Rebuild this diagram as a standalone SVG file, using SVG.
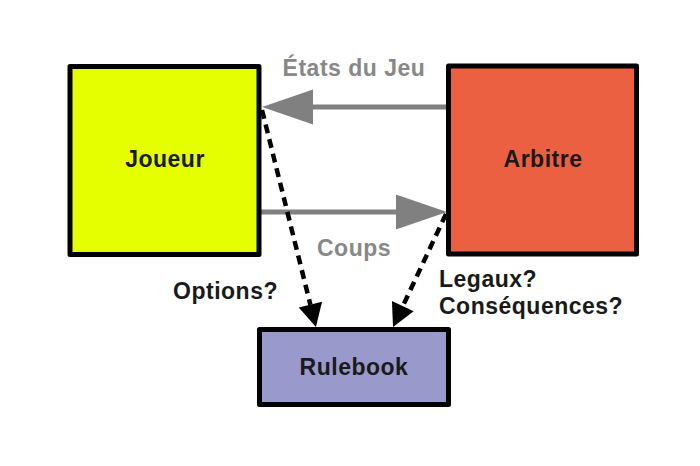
<svg xmlns="http://www.w3.org/2000/svg" width="700" height="466" viewBox="0 0 700 466">
<defs>
<style>
.box{stroke:#000;stroke-width:5;stroke-linejoin:round}
.lbl{font-family:"Liberation Sans",Arial,sans-serif;font-weight:bold;font-size:23px;letter-spacing:0.5px;fill:#1a1a1a}
.glbl{font-family:"Liberation Sans",Arial,sans-serif;font-weight:bold;font-size:23px;letter-spacing:0.5px;fill:#888}
.gray{stroke:#808080;stroke-width:5;fill:none}
.dash{stroke:#000;stroke-width:4.5;stroke-dasharray:9,6;fill:none}
</style>
<marker id="garrow" markerUnits="userSpaceOnUse" markerWidth="52" markerHeight="36" refX="0" refY="17.5" orient="auto" overflow="visible">
<path d="M0,0 L51,17.5 L0,35 z" fill="#808080"/>
</marker>
<marker id="barrow" markerUnits="userSpaceOnUse" markerWidth="24" markerHeight="26" refX="0" refY="12" orient="auto" overflow="visible">
<path d="M0,0 L23,12 L0,24 z" fill="#000"/>
</marker>
</defs>
<rect width="700" height="466" fill="#fff"/>
<g id="connectors">
<line class="gray" x1="447" y1="107" x2="313" y2="107" marker-end="url(#garrow)"/>
<line class="gray" x1="261" y1="212" x2="396" y2="212" marker-end="url(#garrow)"/>
<line class="dash" x1="262" y1="110" x2="310.4" y2="304.7" marker-end="url(#barrow)"/>
<line class="dash" x1="446" y1="214" x2="402.8" y2="306.2" marker-end="url(#barrow)"/>
<text class="glbl" x="354" y="76" text-anchor="middle">États du Jeu</text>
<text class="glbl" x="354" y="256" text-anchor="middle">Coups</text>
<text class="lbl" x="278" y="299" text-anchor="end">Options?</text>
<text class="lbl" x="439" y="287">Legaux?</text>
<text class="lbl" x="439" y="314">Conséquences?</text>
</g>
<g id="joueur">
<rect class="box" x="70" y="66.5" width="189" height="188" fill="#e5ff00"/>
<text class="lbl" x="165" y="167" text-anchor="middle">Joueur</text>
</g>
<g id="arbitre">
<rect class="box" x="448.5" y="66" width="188" height="188" fill="#eb6040"/>
<text class="lbl" x="543" y="167" text-anchor="middle">Arbitre</text>
</g>
<g id="rulebook">
<rect class="box" x="259.5" y="329.5" width="189" height="75" fill="#9999cc"/>
<text class="lbl" x="354" y="375" text-anchor="middle">Rulebook</text>
</g>
</svg>
